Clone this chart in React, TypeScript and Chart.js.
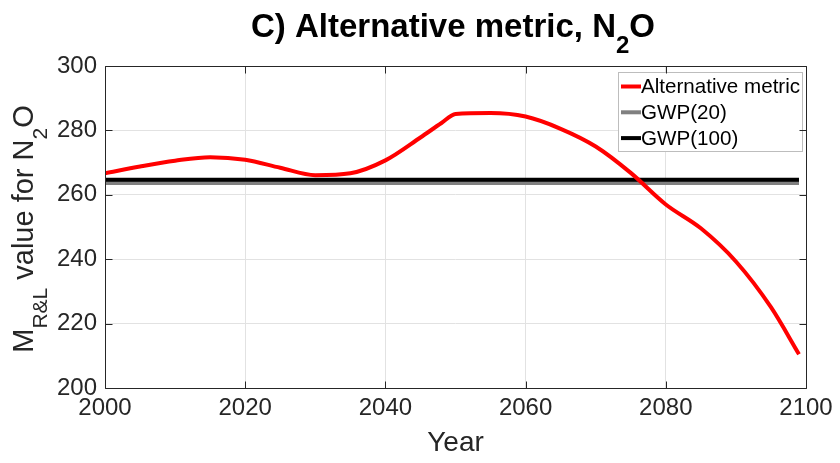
import React, { useEffect, useRef } from "react";
import { Chart, registerables } from "chart.js";

Chart.register(...registerables);

// ---- data ----
const years = [2000, 2005, 2010, 2015, 2020, 2025, 2030, 2035, 2040, 2045, 2048, 2050, 2055, 2060, 2065, 2070, 2075, 2080, 2085, 2090, 2095, 2099];
const altMetric = [266.7, 268.8, 270.6, 271.7, 270.9, 268.4, 266.1, 266.7, 270.7, 277.8, 282.3, 285.1, 285.4, 284.3, 280.5, 275.0, 266.8, 257.0, 249.6, 239.3, 225.1, 210.5];
const gwpYears = [2000, 2099];
const gwp20 = [263.7, 263.7];
const gwp100 = [264.7, 264.7];
const xTicks = [2000, 2020, 2040, 2060, 2080, 2100];
const yTicks = [200, 220, 240, 260, 280, 300];
const seriesLabels = ["Alternative metric", "GWP(20)", "GWP(100)"];

const FONT = "'Liberation Sans', Arial, sans-serif";
const AXIS = "#262626";

type Seg = { t: string; sub?: boolean };

function drawRich(ctx: CanvasRenderingContext2D, segs: Seg[], cx: number, baseY: number, size: number, subSize: number, subOff: number, weight: string) {
  const fm = (s: Seg) => `${weight} ${s.sub ? subSize : size}px ${FONT}`;
  let total = 0;
  const widths = segs.map((s) => {
    ctx.font = fm(s);
    const w = ctx.measureText(s.t).width;
    total += w;
    return w;
  });
  let x = cx - total / 2;
  ctx.textAlign = "left";
  ctx.textBaseline = "alphabetic";
  segs.forEach((s, i) => {
    ctx.font = fm(s);
    ctx.fillText(s.t, x, baseY + (s.sub ? subOff : 0));
    x += widths[i];
  });
}

const decor = {
  id: "decor",
  afterDraw(chart: any) {
    const { ctx, chartArea: a, scales } = chart;
    const xs = scales.x;
    const ys = scales.y;
    ctx.save();

    // legend
    const lx = 618, ly = 72, lw = 184, lh = 79;
    ctx.fillStyle = "#ffffff";
    ctx.fillRect(lx, ly, lw, lh);
    ctx.strokeStyle = "#bdbdbd";
    ctx.lineWidth = 1;
    ctx.strokeRect(lx + 0.5, ly + 0.5, lw, lh);
    chart.data.datasets.forEach((ds: any, i: number) => {
      const yy = 86.5 + i * 25.8;
      ctx.strokeStyle = ds.borderColor;
      ctx.lineWidth = 4;
      ctx.beginPath();
      ctx.moveTo(621, yy);
      ctx.lineTo(641, yy);
      ctx.stroke();
      ctx.fillStyle = "#000000";
      ctx.font = `20.6px ${FONT}`;
      ctx.textAlign = "left";
      ctx.textBaseline = "middle";
      ctx.fillText(ds.label, 641, yy + 1);
    });

    // box
    ctx.strokeStyle = AXIS;
    ctx.lineWidth = 1;
    const L = Math.round(a.left) + 0.5, R = Math.round(a.right) + 0.5;
    const T = Math.round(a.top) + 0.5, B = Math.round(a.bottom) + 0.5;
    ctx.beginPath();
    ctx.rect(L, T, R - L, B - T);
    ctx.stroke();
    // inner ticks
    const tl = 7;
    ctx.beginPath();
    xTicks.forEach((v) => {
      const px = Math.round(xs.getPixelForValue(v)) + 0.5;
      ctx.moveTo(px, B); ctx.lineTo(px, B - tl);
      ctx.moveTo(px, T); ctx.lineTo(px, T + tl);
    });
    yTicks.forEach((v) => {
      const py = Math.round(ys.getPixelForValue(v)) + 0.5;
      ctx.moveTo(L, py); ctx.lineTo(L + tl, py);
      ctx.moveTo(R, py); ctx.lineTo(R - tl, py);
    });
    ctx.stroke();

    // title
    ctx.fillStyle = "#000000";
    drawRich(ctx, [{ t: "C) Alternative metric, N" }, { t: "2", sub: true }, { t: "O" }], 453, 37, 33, 24, 16, "bold");

    // y label
    ctx.save();
    ctx.translate(33, 229);
    ctx.rotate(-Math.PI / 2);
    ctx.fillStyle = AXIS;
    drawRich(ctx, [{ t: "M" }, { t: "R&L", sub: true }, { t: " value for N" }, { t: "2", sub: true }, { t: "O" }], 0, 0, 29, 21, 14, "normal");
    ctx.restore();

    ctx.restore();
  },
};

export default function App() {
  const ref = useRef<HTMLCanvasElement | null>(null);
  useEffect(() => {
    document.body.style.margin = "0";
    const canvas = ref.current;
    if (!canvas) return;
    const chart = new Chart(canvas, {
      type: "line",
      data: {
        datasets: [
          {
            label: seriesLabels[0],
            data: years.map((x, i) => ({ x, y: altMetric[i] })),
            borderColor: "#ff0000",
            borderWidth: 4,
            pointRadius: 0,
            cubicInterpolationMode: "monotone",
            order: 0,
          },
          {
            label: seriesLabels[1],
            data: gwpYears.map((x, i) => ({ x, y: gwp20[i] })),
            borderColor: "#808080",
            borderWidth: 4,
            pointRadius: 0,
            order: 2,
          },
          {
            label: seriesLabels[2],
            data: gwpYears.map((x, i) => ({ x, y: gwp100[i] })),
            borderColor: "#000000",
            borderWidth: 4,
            pointRadius: 0,
            order: 1,
          },
        ],
      },
      options: {
        animation: false,
        responsive: false,
        maintainAspectRatio: false,
        layout: { padding: { top: 66, right: 34, left: 0, bottom: 0 } },
        plugins: {
          legend: { display: false },
          title: { display: false },
          tooltip: { enabled: false },
        },
        scales: {
          x: {
            type: "linear",
            min: 2000,
            max: 2100,
            afterBuildTicks: (s: any) => {
              s.ticks = xTicks.map((v) => ({ value: v }));
            },
            afterFit: (s: any) => {
              s.height = 75;
            },
            ticks: {
              callback: (v: any) => String(v),
              color: AXIS,
              font: { family: FONT, size: 24 },
              padding: 6,
              maxRotation: 0,
              autoSkip: false,
            },
            grid: { color: "#e2e2e2", drawTicks: false, lineWidth: 1 },
            border: { display: false },
            title: {
              display: true,
              text: "Year",
              color: AXIS,
              font: { family: FONT, size: 28 },
              padding: { top: 0, bottom: 3 },
            },
          },
          y: {
            type: "linear",
            min: 200,
            max: 300,
            afterBuildTicks: (s: any) => {
              s.ticks = yTicks.map((v) => ({ value: v }));
            },
            afterFit: (s: any) => {
              s.width = 105;
            },
            ticks: {
              callback: (v: any) => String(v),
              color: AXIS,
              font: { family: FONT, size: 24 },
              padding: 8,
            },
            grid: { color: "#e2e2e2", drawTicks: false, lineWidth: 1 },
            border: { display: false },
          },
        },
      },
      plugins: [decor],
    } as any);
    return () => chart.destroy();
  }, []);
  return (
    <div style={{ position: "absolute", left: 0, top: 0, width: 840, height: 463, background: "#fff" }}>
      <canvas ref={ref} width={840} height={463} style={{ display: "block" }} />
    </div>
  );
}
